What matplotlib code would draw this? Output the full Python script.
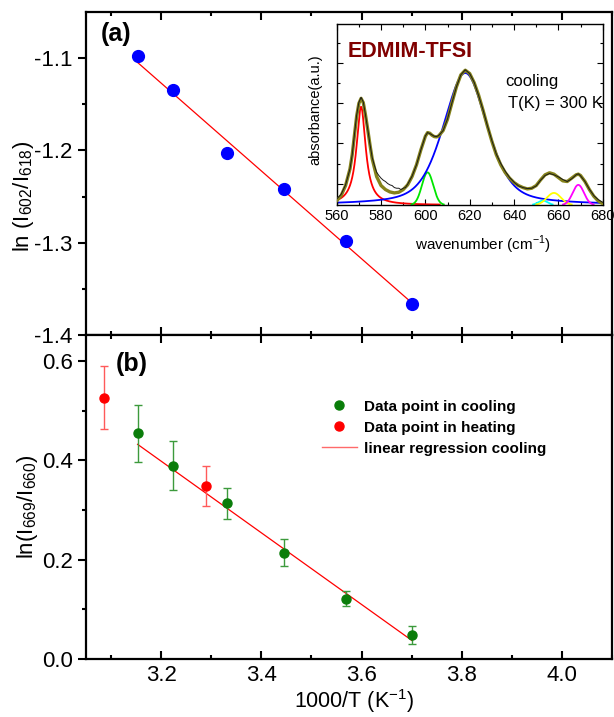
import numpy as np
import matplotlib
matplotlib.use("Agg")
import matplotlib.pyplot as plt
from matplotlib.ticker import MultipleLocator, FixedLocator
from matplotlib.lines import Line2D

plt.rcParams['font.family'] = ['Liberation Sans', 'DejaVu Sans']
plt.rcParams['mathtext.fontset'] = 'custom'
plt.rcParams['mathtext.rm'] = 'Liberation Sans'
plt.rcParams['axes.unicode_minus'] = False

# ---------------- data ----------------
# panel (a)
inv_T_a = [3.153, 3.224, 3.331, 3.446, 3.569, 3.701]
ln_ratio_a = [-1.098, -1.134, -1.203, -1.242, -1.298, -1.366]
fit_a_x = [3.153, 3.701]
fit_a_y = [-1.1047, -1.3654]

# panel (b)
inv_T_cool = [3.153, 3.224, 3.331, 3.445, 3.569, 3.701]
ln_ratio_cool = [0.454, 0.389, 0.313, 0.214, 0.121, 0.049]
err_cool = [0.058, 0.049, 0.032, 0.027, 0.015, 0.018]
inv_T_heat = [3.085, 3.289]
ln_ratio_heat = [0.526, 0.348]
err_heat = [0.063, 0.040]
fit_b_x = [3.153, 3.701]
fit_b_y = [0.432, 0.037]

# inset: fitted peak components (center, height, fwhm, lorentz fraction)
peak_center = [571, 601, 618, 653, 658, 669]
peak_height = [2.44, 0.81, 3.28, 0.11, 0.30, 0.50]
peak_fwhm = [5.0, 6.0, 23.5, 5.0, 7.5, 6.0]
peak_eta = [1.0, 0.0, 0.45, 0.0, 0.0, 0.0]
peak_colors = ['#ff0000', '#00e600', '#0000ff', '#00ffff', '#ffff00', '#ff00ff']

# inset: total fit curve
fit_wn = [560, 562, 564, 566, 567, 568, 569, 570, 571, 572, 573, 574, 575, 576, 578,
          580, 582, 584, 586, 588, 590, 592, 594, 596, 598, 600, 601, 602, 603, 604,
          605, 606, 608, 610, 612, 614, 616, 618, 620, 622, 624, 626, 628, 630, 632,
          634, 636, 638, 640, 642, 644, 646, 648, 650, 652, 654, 656, 658, 660, 662,
          664, 666, 668, 669, 670, 672, 674, 676, 678, 680]
fit_h = [13, 28, 58, 108, 150, 208, 265, 303, 318, 305, 268, 225, 180, 138, 85,
         58, 46, 39, 36, 38, 46, 60, 85, 120, 165, 205, 216, 214, 208, 204,
         203, 206, 222, 256, 305, 352, 388, 402, 392, 365, 328, 283, 235, 190, 150,
         120, 97, 80, 67, 58, 52, 48, 50, 58, 75, 90, 96, 92, 82, 72,
         70, 80, 90, 92, 88, 70, 46, 26, 12, 4]

exp_wn = [560, 562, 564, 566, 567, 568, 569, 570, 571, 572, 573, 574, 575, 576, 577,
          578, 579, 580, 581, 582, 583, 584, 585, 586, 587, 588, 589, 590, 591, 592,
          594, 596, 598, 600, 601, 602, 603, 604, 605, 606, 608, 610, 612, 614, 616,
          618, 620, 622, 624, 626, 628, 630, 632, 634, 636, 638, 640, 642, 644, 646,
          648, 650, 652, 654, 656, 658, 660, 662, 664, 666, 668, 669, 670, 672, 674,
          676, 678, 680]
exp_h = [18, 32, 60, 108, 150, 210, 268, 306, 321, 307, 268, 226, 182, 142, 118,
         98, 88, 80, 74, 70, 64, 60, 58, 52, 50, 50, 46, 50, 52, 62,
         86, 120, 165, 206, 216, 213, 209, 205, 204, 207, 222, 257, 305, 352, 388,
         403, 392, 366, 327, 284, 236, 192, 152, 124, 101, 82, 68, 57, 52, 49,
         50, 57, 74, 88, 94, 90, 84, 76, 70, 78, 90, 93, 87, 70, 47,
         28, 16, 8]

# ---------------- figure ----------------
fig = plt.figure(figsize=(6.14, 7.17), dpi=100)
W, H = 614, 717


def fax(l, t, r, b):
    return fig.add_axes([l / W, 1 - b / H, (r - l) / W, (b - t) / H])


ax_a = fax(86, 12, 612, 335)
ax_b = fax(86, 335, 612, 659)

for ax in (ax_a, ax_b):
    for s in ax.spines.values():
        s.set_linewidth(1.6)
    ax.set_xlim(3.05, 4.1)
    ax.xaxis.set_major_locator(MultipleLocator(0.2))
    ax.xaxis.set_minor_locator(MultipleLocator(0.1))
    ax.tick_params(axis='x', which='both', direction='in', top=True, bottom=True)
    ax.tick_params(axis='y', which='both', direction='out', left=True, right=False)
    ax.tick_params(which='major', length=6, width=1.5, labelsize=16)
    ax.tick_params(which='minor', length=3, width=1.5)
    ax.tick_params(axis='x', which='major', pad=4.5)

# panel (a)
ax_a.set_ylim(-1.4, -1.05)
ax_a.yaxis.set_major_locator(FixedLocator([-1.4, -1.3, -1.2, -1.1]))
ax_a.yaxis.set_minor_locator(FixedLocator([-1.35, -1.25, -1.15]))
ax_a.tick_params(axis='x', labelbottom=False)
ax_a.plot(fit_a_x, fit_a_y, color='#ff0000', lw=0.9, zorder=2)
ax_a.plot(inv_T_a, ln_ratio_a, 'o', color='#0000ff', ms=8.5, zorder=3)
ax_a.set_ylabel(r'ln (I$_{\mathregular{602}}$/I$_{\mathregular{618}}$)', fontsize=16)
ax_a.yaxis.set_label_coords(-0.095, 0.43)
ax_a.text((101 - 86) / 526, (335 - 34) / 323, '(a)', transform=ax_a.transAxes,
          fontsize=18, fontweight='bold', va='center', ha='left')

# panel (b)
ax_b.set_ylim(0.0, 0.652)
ax_b.yaxis.set_major_locator(FixedLocator([0.0, 0.2, 0.4, 0.6]))
ax_b.yaxis.set_minor_locator(FixedLocator([0.1, 0.3, 0.5]))
ax_b.yaxis.set_major_formatter(matplotlib.ticker.FormatStrFormatter('%.1f'))
ax_b.xaxis.set_major_formatter(matplotlib.ticker.FormatStrFormatter('%.1f'))
ax_b.plot(fit_b_x, fit_b_y, color='#ff0000', lw=0.9, zorder=2)
ax_b.errorbar(inv_T_cool, ln_ratio_cool, yerr=err_cool, fmt='o', color='#0a7d0a',
              ecolor='#3c9a3c', ms=6.5, elinewidth=1.0, capsize=3, capthick=1.0, zorder=3)
ax_b.errorbar(inv_T_heat, ln_ratio_heat, yerr=err_heat, fmt='o', color='#ff0000',
              ecolor='#ff5a5a', ms=6.5, elinewidth=1.0, capsize=3, capthick=1.0, zorder=3)
ax_b.set_ylabel(r'ln(I$_{\mathregular{669}}$/I$_{\mathregular{660}}$)', fontsize=16)
ax_b.yaxis.set_label_coords(-0.087, 0.47)
ax_b.set_xlabel(r'1000/T (K$^{\mathregular{-1}}$)', fontsize=15.5)
ax_b.xaxis.set_label_coords(0.51, -0.086)
ax_b.text((116 - 86) / 526, (659 - 364) / 324, '(b)', transform=ax_b.transAxes,
          fontsize=18, fontweight='bold', va='center', ha='left')

handles = [Line2D([], [], ls='none', marker='o', color='#0a7d0a', ms=6.5),
           Line2D([], [], ls='none', marker='o', color='#ff0000', ms=6.5),
           Line2D([], [], color='#ff6a6a', lw=1.0)]
labels = ['Data point in cooling', 'Data point in heating', 'linear regression cooling']
leg = ax_b.legend(handles, labels, loc='upper left', bbox_to_anchor=(0.448, 0.80),
                  frameon=False, borderaxespad=0, borderpad=0, handlelength=2.3,
                  handletextpad=0.45, labelspacing=0.45,
                  prop={'size': 11, 'weight': 'bold'})

# inset
ax_i = fax(336.7, 24.3, 602.7, 205)
ax_i.set_facecolor('white')
for s in ax_i.spines.values():
    s.set_linewidth(1.0)
ax_i.set_xlim(560, 680)
ax_i.set_ylim(0, 4.49)
ax_i.xaxis.set_major_locator(MultipleLocator(20))
ax_i.xaxis.set_minor_locator(MultipleLocator(10))
ax_i.yaxis.set_major_locator(FixedLocator([0.533, 1.53, 2.525, 3.52]))
ax_i.yaxis.set_minor_locator(FixedLocator([1.03, 2.03, 3.02, 4.02]))
ax_i.tick_params(which='both', direction='in', top=True, right=True, labelleft=False,
                 width=0.8)
ax_i.tick_params(which='major', length=4, labelsize=10.5, pad=3)
ax_i.tick_params(which='minor', length=2)

wn = np.linspace(560, 680, 1201)
for c, h, w, eta, col in zip(peak_center, peak_height, peak_fwhm, peak_eta, peak_colors):
    hw = w / 2.0
    lor = 1.0 / (1.0 + ((wn - c) / hw) ** 2)
    gau = np.exp(-np.log(2) * ((wn - c) / hw) ** 2)
    y = h * (eta * lor + (1 - eta) * gau)
    y = np.where(y > 0.012, y, np.nan)
    ax_i.plot(wn, y, color=col, lw=1.3, zorder=2)

ax_i.plot(fit_wn, np.array(fit_h) / 120.0, color='#85821a', lw=2.4, zorder=3,
          solid_joinstyle='round')
ax_i.plot(exp_wn, np.array(exp_h) / 120.0, color='#1a1a1a', lw=0.7, zorder=4)

ax_i.set_xlabel(r'wavenumber (cm$^{\mathregular{-1}}$)', fontsize=11)
ax_i.xaxis.set_label_coords(0.55, -0.16)
ax_i.set_ylabel('absorbance(a.u.)', fontsize=10.5)
ax_i.yaxis.set_label_coords(-0.055, 0.53)
ax_i.text(0.04, 0.85, 'EDMIM-TFSI', transform=ax_i.transAxes, fontsize=15.5,
          fontweight='bold', color='#800000', va='center', ha='left')
ax_i.text(0.633, 0.686, 'cooling', transform=ax_i.transAxes, fontsize=12,
          va='center', ha='left')
ax_i.text(0.644, 0.564, 'T(K) = 300 K', transform=ax_i.transAxes, fontsize=12,
          va='center', ha='left')

fig.savefig('out.png', dpi=100)
